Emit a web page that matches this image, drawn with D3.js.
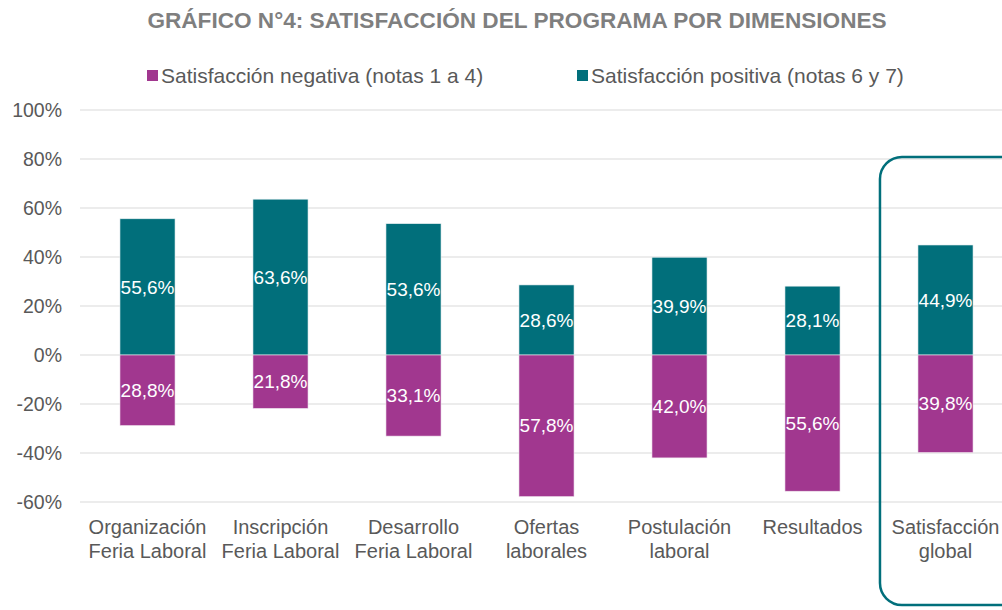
<!DOCTYPE html>
<html>
<head>
<meta charset="utf-8">
<script src="https://cdn.jsdelivr.net/npm/d3@7"></script>
<style>
  html, body { margin: 0; padding: 0; background: #fff; }
  svg { display: block; font-family: "Liberation Sans", Arial, sans-serif; }
</style>
</head>
<body>
<div id="chart"></div>
<script>
// ── Data ────────────────────────────────────────────────────────────────
const categories = [
  ["Organización", "Feria Laboral"],
  ["Inscripción", "Feria Laboral"],
  ["Desarrollo", "Feria Laboral"],
  ["Ofertas", "laborales"],
  ["Postulación", "laboral"],
  ["Resultados"],
  ["Satisfacción", "global"]
];
const positive = [55.6, 63.6, 53.6, 28.6, 39.9, 28.1, 44.9];
const negative = [28.8, 21.8, 33.1, 57.8, 42.0, 55.6, 39.8];
const yTicks = [-60, -40, -20, 0, 20, 40, 60, 80, 100];
const seriesNames = ["Satisfacción negativa (notas 1 a 4)", "Satisfacción positiva (notas 6 y 7)"];
const TITLE = "GRÁFICO N°4: SATISFACCIÓN DEL PROGRAMA POR DIMENSIONES";

const TEAL = "#016f7b";
const MAGENTA = "#a1378f";
const GREY = "#595959";
const GRID = "#d9d9d9";

const W = 1002, H = 610;

const locale = d3.formatLocale({ decimal: ",", thousands: ".", grouping: [3], currency: ["", ""] });
const fmt = v => locale.format(".1f")(v) + "%";

const svg = d3.select("#chart").append("svg")
  .attr("width", W).attr("height", H);

const x = d3.scaleBand()
  .domain(d3.range(categories.length))
  .range([81, 1012])
  .paddingInner(0.586)
  .paddingOuter(0.293);

const y = d3.scaleLinear().domain([-60, 100]).range([502, 110]);

// Title
svg.append("text")
  .attr("x", 517).attr("y", 28)
  .attr("text-anchor", "middle")
  .style("font-size", "22.6px").style("font-weight", "700").style("fill", "#7f7f7f")
  .text(TITLE);

// Legend
const legendX = [147, 577];
[MAGENTA, TEAL].forEach((c, i) => {
  svg.append("rect")
    .attr("x", legendX[i]).attr("y", 70)
    .attr("width", 11).attr("height", 11)
    .attr("fill", c);
  svg.append("text")
    .attr("x", legendX[i] + 14).attr("y", 83)
    .style("font-size", "21px").style("fill", GREY)
    .text(seriesNames[i]);
});

// Gridlines + y labels
yTicks.forEach(t => {
  svg.append("line")
    .attr("x1", 80).attr("x2", W)
    .attr("y1", y(t)).attr("y2", y(t))
    .attr("stroke", GRID).attr("stroke-width", 1);
  svg.append("text")
    .attr("x", 62).attr("y", y(t))
    .attr("dy", "0.35em")
    .attr("text-anchor", "end")
    .style("font-size", "19.5px").style("fill", GREY)
    .text(t + "%");
});

// Bars
const bars = svg.append("g");
bars.selectAll("rect.pos").data(positive).join("rect")
  .attr("class", "pos")
  .attr("x", (d, i) => x(i)).attr("width", x.bandwidth())
  .attr("y", d => y(d)).attr("height", d => y(0) - y(d))
  .attr("fill", TEAL).attr("stroke", "#e6eef0").attr("stroke-width", 0.6);
bars.selectAll("rect.neg").data(negative).join("rect")
  .attr("class", "neg")
  .attr("x", (d, i) => x(i)).attr("width", x.bandwidth())
  .attr("y", y(0)).attr("height", d => y(-d) - y(0))
  .attr("fill", MAGENTA).attr("stroke", "#f0e6ee").attr("stroke-width", 0.6);

// Value labels
const labels = svg.append("g")
  .style("font-size", "19px").style("fill", "#fff").attr("text-anchor", "middle");
labels.selectAll("text.pos").data(positive).join("text")
  .attr("class", "pos")
  .attr("x", (d, i) => x(i) + x.bandwidth() / 2)
  .attr("y", d => (y(d) + y(0)) / 2).attr("dy", "0.35em")
  .text(d => fmt(d));
labels.selectAll("text.neg").data(negative).join("text")
  .attr("class", "neg")
  .attr("x", (d, i) => x(i) + x.bandwidth() / 2)
  .attr("y", d => (y(-d) + y(0)) / 2).attr("dy", "0.35em")
  .text(d => fmt(d));

// Category labels
const xl = svg.append("g")
  .style("font-size", "20px").style("fill", GREY).attr("text-anchor", "middle");
categories.forEach((lines, i) => {
  const t = xl.append("text")
    .attr("x", x(i) + x.bandwidth() / 2).attr("y", 534);
  lines.forEach((ln, j) => {
    t.append("tspan")
      .attr("x", x(i) + x.bandwidth() / 2)
      .attr("dy", j === 0 ? 0 : 24)
      .text(ln);
  });
});

// Highlight box around the global satisfaction column
const last = categories.length - 1;
svg.append("rect")
  .attr("x", x(last) - 38).attr("y", y(80) - 2)
  .attr("width", 150).attr("height", 448)
  .attr("rx", 22).attr("ry", 22)
  .attr("fill", "none").attr("stroke", TEAL).attr("stroke-width", 2.5);
</script>
</body>
</html>
